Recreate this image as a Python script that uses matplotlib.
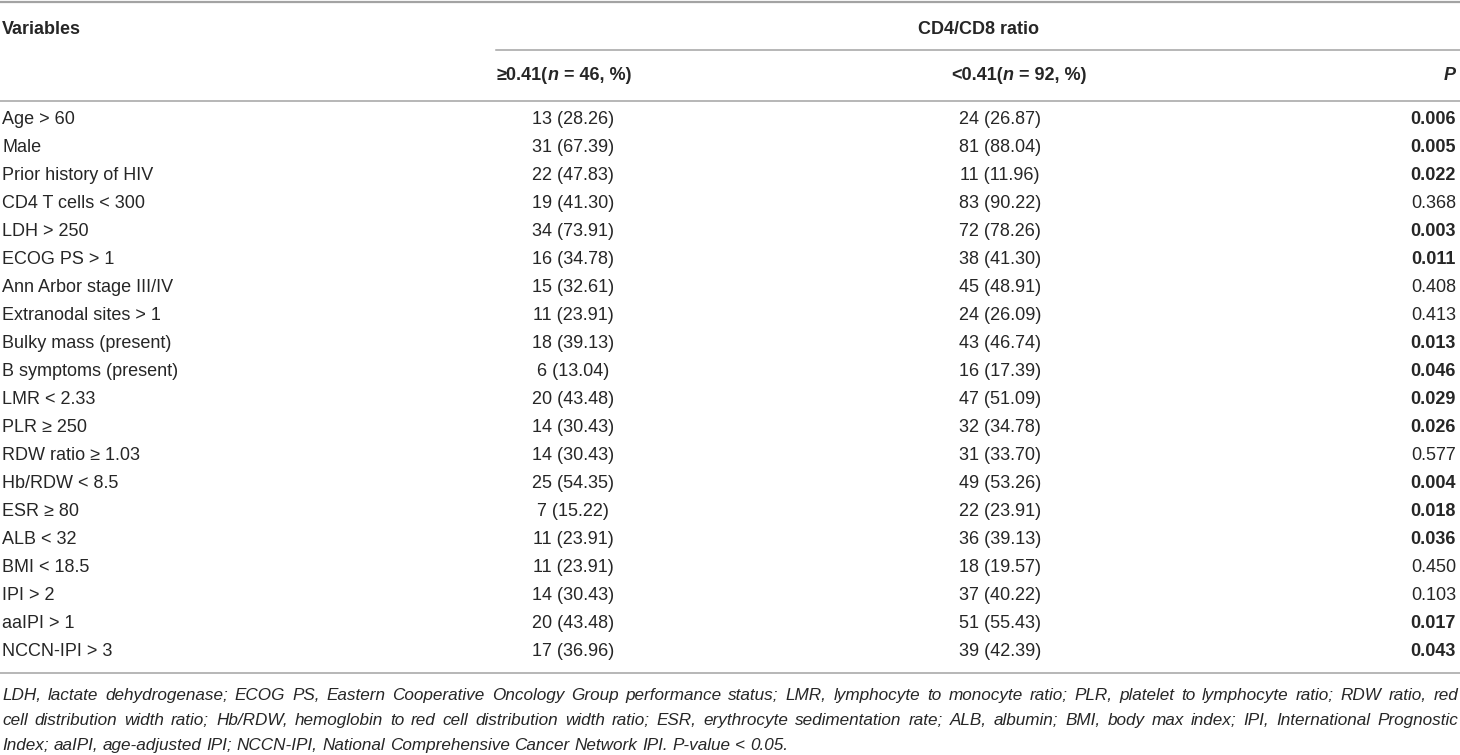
import matplotlib.pyplot as plt

# Table data
variables = ["Age > 60", "Male", "Prior history of HIV", "CD4 T cells < 300", "LDH > 250",
             "ECOG PS > 1", "Ann Arbor stage III/IV", "Extranodal sites > 1", "Bulky mass (present)",
             "B symptoms (present)", "LMR < 2.33", "PLR \u2265 250", "RDW ratio \u2265 1.03",
             "Hb/RDW < 8.5", "ESR \u2265 80", "ALB < 32", "BMI < 18.5", "IPI > 2", "aaIPI > 1",
             "NCCN-IPI > 3"]
high_group = ["13 (28.26)", "31 (67.39)", "22 (47.83)", "19 (41.30)", "34 (73.91)", "16 (34.78)",
              "15 (32.61)", "11 (23.91)", "18 (39.13)", "6 (13.04)", "20 (43.48)", "14 (30.43)",
              "14 (30.43)", "25 (54.35)", "7 (15.22)", "11 (23.91)", "11 (23.91)", "14 (30.43)",
              "20 (43.48)", "17 (36.96)"]
low_group = ["24 (26.87)", "81 (88.04)", "11 (11.96)", "83 (90.22)", "72 (78.26)", "38 (41.30)",
             "45 (48.91)", "24 (26.09)", "43 (46.74)", "16 (17.39)", "47 (51.09)", "32 (34.78)",
             "31 (33.70)", "49 (53.26)", "22 (23.91)", "36 (39.13)", "18 (19.57)", "37 (40.22)",
             "51 (55.43)", "39 (42.39)"]
p_values = ["0.006", "0.005", "0.022", "0.368", "0.003", "0.011", "0.408", "0.413", "0.013", "0.046",
            "0.029", "0.026", "0.577", "0.004", "0.018", "0.036", "0.450", "0.103", "0.017", "0.043"]

footnote_lines = [
    "LDH, lactate dehydrogenase; ECOG PS, Eastern Cooperative Oncology Group performance status; "
    "LMR, lymphocyte to monocyte ratio; PLR, platelet to lymphocyte ratio; RDW ratio, red",
    "cell distribution width ratio; Hb/RDW, hemoglobin to red cell distribution width ratio; "
    "ESR, erythrocyte sedimentation rate; ALB, albumin; BMI, body max index; IPI, International Prognostic",
    "Index; aaIPI, age-adjusted IPI; NCCN-IPI, National Comprehensive Cancer Network IPI. P-value < 0.05.",
]

plt.rcParams['font.family'] = ['Liberation Sans', 'DejaVu Sans']
txt_color = '#262626'
line_color = '#a3a3a3'
fs = 13
fs_note = 12.3
VA = 'center_baseline'

fig = plt.figure(figsize=(14.6, 7.55), dpi=100)
ax = fig.add_axes([0, 0, 1, 1])
ax.set_xlim(0, 1460)
ax.set_ylim(755, 0)
ax.axis('off')
renderer = fig.canvas.get_renderer()


def width_of(t):
    return t.get_window_extent(renderer=renderer).width


def draw_runs(x, y, runs):
    # runs: list of (text, weight, style, space_after)
    cur = x
    for s, w, st, sp in runs:
        t = ax.text(cur, y, s, fontsize=fs, fontweight=w, fontstyle=st, color=txt_color, va=VA)
        cur += width_of(t) + sp


space_b = fs / 72 * 100 * 0.278

# rules
ax.plot([0, 1460], [2, 2], color=line_color, lw=1.6)
ax.plot([496, 1460], [50, 50], color=line_color, lw=1.1)
ax.plot([0, 1460], [101, 101], color=line_color, lw=1.1)
ax.plot([0, 1460], [673, 673], color=line_color, lw=1.1)

# header
ax.text(2, 27, "Variables", fontsize=fs, fontweight='bold', color=txt_color, va=VA)
ax.text(978, 27, "CD4/CD8 ratio", fontsize=fs, fontweight='bold', color=txt_color, va=VA, ha='center')
draw_runs(497, 74, [("\u22650.41(", 'bold', 'normal', 0), ("n", 'bold', 'italic', space_b),
                    ("= 46, %)", 'bold', 'normal', 0)])
draw_runs(951, 74, [("<0.41(", 'bold', 'normal', 0), ("n", 'bold', 'italic', space_b),
                    ("= 92, %)", 'bold', 'normal', 0)])
ax.text(1456, 74, "P", fontsize=fs, fontweight='bold', fontstyle='italic', color=txt_color,
        va=VA, ha='right')

# body rows
y0, dy = 118, 27.95
for i, (v, a, b, p) in enumerate(zip(variables, high_group, low_group, p_values)):
    y = y0 + i * dy
    ax.text(2, y, v, fontsize=fs, color=txt_color, va=VA)
    ax.text(573, y, a, fontsize=fs, color=txt_color, va=VA, ha='center')
    ax.text(1000, y, b, fontsize=fs, color=txt_color, va=VA, ha='center')
    ax.text(1456, y, p, fontsize=fs, color=txt_color, va=VA, ha='right',
            fontweight='bold' if float(p) < 0.05 else 'normal')

# footnote, first two lines justified
probe1 = ax.text(0, 0, "a a", fontsize=fs_note, fontstyle='italic')
probe2 = ax.text(0, 0, "aa", fontsize=fs_note, fontstyle='italic')
space_i = width_of(probe1) - width_of(probe2)
probe1.remove()
probe2.remove()

note_y = [694, 719, 744]
for k, line in enumerate(footnote_lines):
    words = line.split(' ')
    ts = [ax.text(0, note_y[k], w, fontsize=fs_note, fontstyle='italic', color=txt_color, va=VA)
          for w in words]
    ws = [width_of(t) for t in ts]
    if k < 2:
        gap = (1458 - 2 - sum(ws)) / (len(words) - 1)
    else:
        gap = space_i
    cur = 2
    for t, w in zip(ts, ws):
        t.set_x(cur)
        cur += w + gap

fig.savefig('out.png', dpi=100)
